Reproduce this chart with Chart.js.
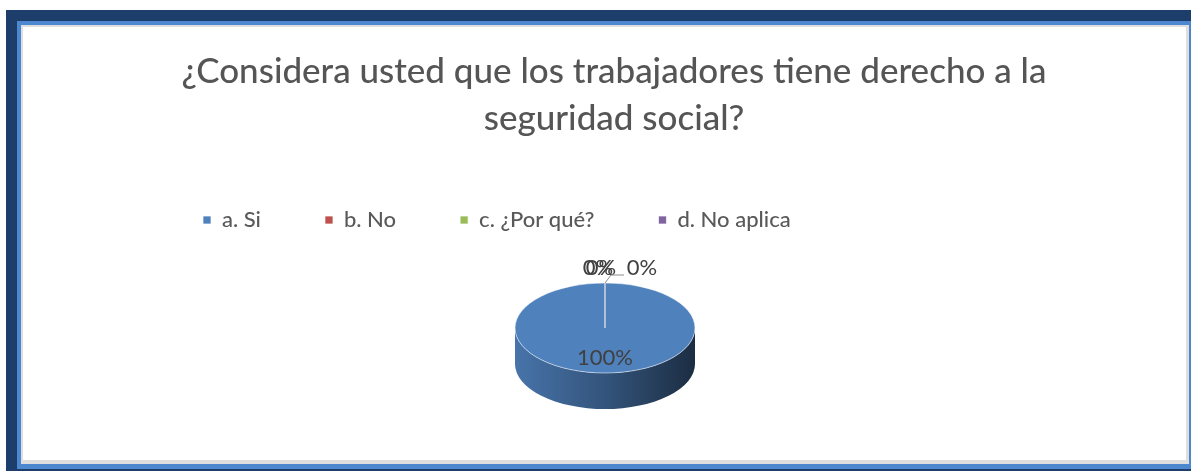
<!DOCTYPE html>
<html>
<head>
<meta charset="utf-8">
<script src="https://cdn.jsdelivr.net/npm/chart.js@4.4.1/dist/chart.umd.min.js"></script>
<style>
  html, body { margin: 0; padding: 0; background: #ffffff; }
  body { width: 1191px; height: 471px; position: relative; overflow: hidden; }
  .frame { position: absolute; }
  #navy { left: 6px; top: 10px; width: 1185px; height: 461px; background: #1d3e6a; }
  #blue { left: 17px; top: 21px; width: 1174px; height: 448px; background: #4d87d0; }
  #grey { left: 21px; top: 25px; width: 1168px; height: 439px; background: #dedede; }
  #white { left: 23px; top: 27px; width: 1163px; height: 433px; background: #ffffff; }
  #myChart { position: absolute; left: 0; top: 0; }
</style>
</head>
<body>
<div class="frame" id="navy"></div>
<div class="frame" id="blue"></div>
<div class="frame" id="grey"></div>
<div class="frame" id="white"></div>
<canvas id="myChart" width="1191" height="471"></canvas>
<script>
// chart data
var titleLines = ["¿Considera usted que los trabajadores tiene derecho a la", "seguridad social?"];
var categories = ["a. Si", "b. No", "c. ¿Por qué?", "d. No aplica"];
var values = [100, 0, 0, 0];
var colors = ["#4f81bd", "#c0504d", "#9bbb59", "#8064a2"];

var TILT = 0.5;      // vertical squash of the pie top
var DEPTH = 36;      // thickness of the 3d side
var SHIFT_X = -9;    // pie sits a little left of the title centre

function shade(hex, f) {
    var n = parseInt(hex.slice(1), 16);
    var r = Math.round(((n >> 16) & 255) * f);
    var g = Math.round(((n >> 8) & 255) * f);
    var b = Math.round((n & 255) * f);
    return "rgb(" + r + "," + g + "," + b + ")";
}

// draws the side of the pie, then squashes the top face
var pie3d = {
    id: "pie3d",
    beforeDatasetsDraw: function (chart) {
        var ctx = chart.ctx;
        var arcs = chart.getDatasetMeta(0).data;
        if (!arcs.length) return;
        var cx = arcs[0].x, cy = arcs[0].y, r = arcs[0].outerRadius;
        var ex = cx + SHIFT_X;
        arcs.forEach(function (arc, i) {
            for (var k = -1; k <= 1; k++) {
                var lo = Math.max(arc.startAngle, k * 2 * Math.PI);
                var hi = Math.min(arc.endAngle, k * 2 * Math.PI + Math.PI);
                if (hi <= lo) continue;
                var grad = ctx.createLinearGradient(ex - r, 0, ex + r, 0);
                grad.addColorStop(0, shade(colors[i], 0.9));
                grad.addColorStop(0.5, shade(colors[i], 0.65));
                grad.addColorStop(1, shade(colors[i], 0.35));
                ctx.save();
                ctx.beginPath();
                ctx.ellipse(ex, cy, r, r * TILT, 0, lo, hi);
                ctx.ellipse(ex, cy + DEPTH, r, r * TILT, 0, hi, lo, true);
                ctx.closePath();
                ctx.fillStyle = grad;
                ctx.fill();
                ctx.restore();
            }
        });
        ctx.save();
        ctx.translate(ex, cy);
        ctx.scale(1, TILT);
        ctx.translate(-cx, -cy);
    },
    afterDatasetsDraw: function (chart) {
        var ctx = chart.ctx;
        ctx.restore();
        var arcs = chart.getDatasetMeta(0).data;
        if (!arcs.length) return;
        var cx = arcs[0].x + SHIFT_X, cy = arcs[0].y, r = arcs[0].outerRadius;
        var total = values.reduce(function (a, b) { return a + b; }, 0);
        ctx.save();
        ctx.font = "22px Lato";
        ctx.fillStyle = "#404040";
        ctx.textAlign = "center";
        ctx.textBaseline = "middle";
        var zeroCount = 0;
        arcs.forEach(function (arc, i) {
            var pct = Math.round(values[i] / total * 100) + "%";
            var mid = (arc.startAngle + arc.endAngle) / 2;
            if (values[i] > 0) {
                ctx.fillText(pct, cx + 0.67 * r * Math.cos(mid), cy + 0.67 * r * TILT * Math.sin(mid));
                return;
            }
            var rx = cx + r * Math.cos(mid), ry = cy + r * TILT * Math.sin(mid);
            if (zeroCount === 0) {
                // slice border line where the empty slices sit
                ctx.strokeStyle = "rgba(200,200,200,0.9)";
                ctx.lineWidth = 1;
                ctx.beginPath();
                ctx.moveTo(cx, cy);
                ctx.lineTo(rx, ry);
                ctx.stroke();
            }
            if (zeroCount < 2) {
                ctx.fillText(pct, rx - 7 + zeroCount * 3, ry - 15);
            } else {
                ctx.strokeStyle = "#8c8c8c";
                ctx.beginPath();
                ctx.moveTo(rx, ry);
                ctx.lineTo(rx + 6, ry - 8);
                ctx.lineTo(rx + 19, ry - 8);
                ctx.stroke();
                ctx.fillText(pct, rx + 37, ry - 15);
            }
            zeroCount++;
        });
        ctx.restore();
    }
};

var ctx = document.getElementById('myChart').getContext('2d');
new Chart(ctx, {
    type: 'pie',
    data: {
        labels: categories,
        datasets: [{
            data: values,
            backgroundColor: colors,
            borderColor: "rgba(255,255,255,0.7)",
            borderWidth: 1,
            radius: 90,
            clip: false
        }]
    },
    options: {
        responsive: false,
        animation: false,
        devicePixelRatio: 1,
        layout: { padding: { left: 139, right: 102, top: 0, bottom: 56 } },
        plugins: {
            title: {
                display: true,
                text: titleLines,
                color: "#555555",
                font: { family: "Lato", size: 35, weight: "500", lineHeight: 47 / 35 },
                padding: { top: 48, bottom: 3 }
            },
            legend: {
                position: 'top',
                align: 'start',
                labels: {
                    color: "#595959",
                    font: { family: "Lato", size: 22, weight: "500" },
                    boxWidth: 8,
                    boxHeight: 8,
                    padding: 64
                }
            },
            tooltip: { enabled: false }
        }
    },
    plugins: [pie3d]
});
</script>
</body>
</html>
